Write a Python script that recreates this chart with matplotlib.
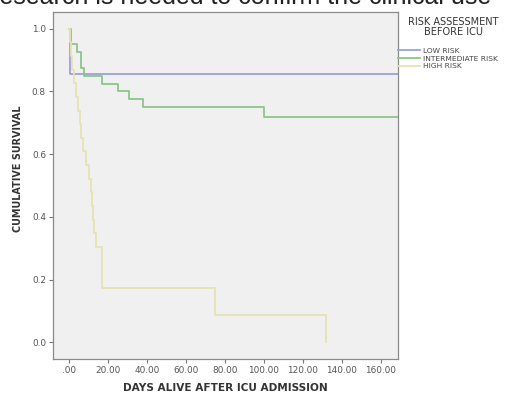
import matplotlib
matplotlib.use("Agg")
import matplotlib.pyplot as plt

# Kaplan-Meier estimates by pre-ICU risk group (days, cumulative survival)
low_days = [0, 0.5, 170]
low_surv = [1.0, 0.857, 0.857]

mid_days = [0, 1, 4, 6, 8, 17, 25, 31, 38, 100, 170]
mid_surv = [1.0, 0.95, 0.925, 0.875, 0.85, 0.825, 0.80, 0.775, 0.75, 0.72, 0.72]

high_days = [0, 0.5, 1.0, 1.5, 2.5, 3.5, 4.5, 5.5, 6.5, 7.5, 9.0, 10.5, 11.5,
             12.0, 12.5, 13.0, 14.0, 17, 75, 132]
high_surv = [1.0, 0.957, 0.913, 0.870, 0.826, 0.783, 0.739, 0.696, 0.652, 0.609,
             0.565, 0.522, 0.478, 0.435, 0.391, 0.348, 0.304, 0.174, 0.087, 0.0]

group_labels = ["LOW RISK", "INTERMEDIATE RISK", "HIGH RISK"]
group_colors = ["#9aa2d8", "#8cc488", "#e6e2b4"]

x_ticks = [0, 20, 40, 60, 80, 100, 120, 140, 160]
x_tick_labels = [".00", "20.00", "40.00", "60.00", "80.00", "100.00", "120.00", "140.00", "160.00"]
y_ticks = [0.0, 0.2, 0.4, 0.6, 0.8, 1.0]
y_tick_labels = ["0.0", "0.2", "0.4", "0.6", "0.8", "1.0"]

fig = plt.figure(figsize=(5.08, 3.96), dpi=100)
fig.patch.set_facecolor("white")
ax = fig.add_axes([0.104, 0.093, 0.679, 0.877])
ax.set_facecolor("#f0f0f0")

series = [(low_days, low_surv), (mid_days, mid_surv), (high_days, high_surv)]
handles = []
for (d, s), lab, col in zip(series, group_labels, group_colors):
    h, = ax.step(d, s, where="post", color=col, lw=1.3, label=lab)
    handles.append(h)

ax.set_xlim(-8.2, 168.7)
ax.set_ylim(-0.054, 1.054)
ax.set_xticks(x_ticks)
ax.set_xticklabels(x_tick_labels)
ax.set_yticks(y_ticks)
ax.set_yticklabels(y_tick_labels)
ax.tick_params(axis="both", direction="out", length=3, width=0.8,
               colors="#777777", labelsize=6.4, labelcolor="#555555", pad=2)
for sp in ax.spines.values():
    sp.set_color("#8a8a8a")
    sp.set_linewidth(0.9)

ax.set_xlabel("DAYS ALIVE AFTER ICU ADMISSION", fontsize=7.6, fontweight="bold",
              color="#333333", labelpad=6)
fig.text(0.036, 0.575, "CUMULATIVE SURVIVAL", rotation=90, fontsize=6.9,
         fontweight="bold", color="#333333", ha="center", va="center")

leg = fig.legend(handles=handles, labels=group_labels,
                 loc="upper left", bbox_to_anchor=(0.783, 0.88),
                 frameon=False, fontsize=5.4,
                 handlelength=3.0, handletextpad=0.3, labelspacing=0.2,
                 borderaxespad=0, borderpad=0.0)
for t in leg.get_texts():
    t.set_color("#444444")
fig.text(0.892, 0.932, "RISK ASSESSMENT\nBEFORE ICU", fontsize=7.0,
         color="#333333", ha="center", va="center", multialignment="center",
         linespacing=0.95)

fig.text(-0.018, 0.99, "research is needed to confirm the clinical use",
         fontsize=18, color="#222222", ha="left", va="baseline",
         family="Liberation Sans")

fig.savefig("out.png", dpi=100, facecolor="white")
